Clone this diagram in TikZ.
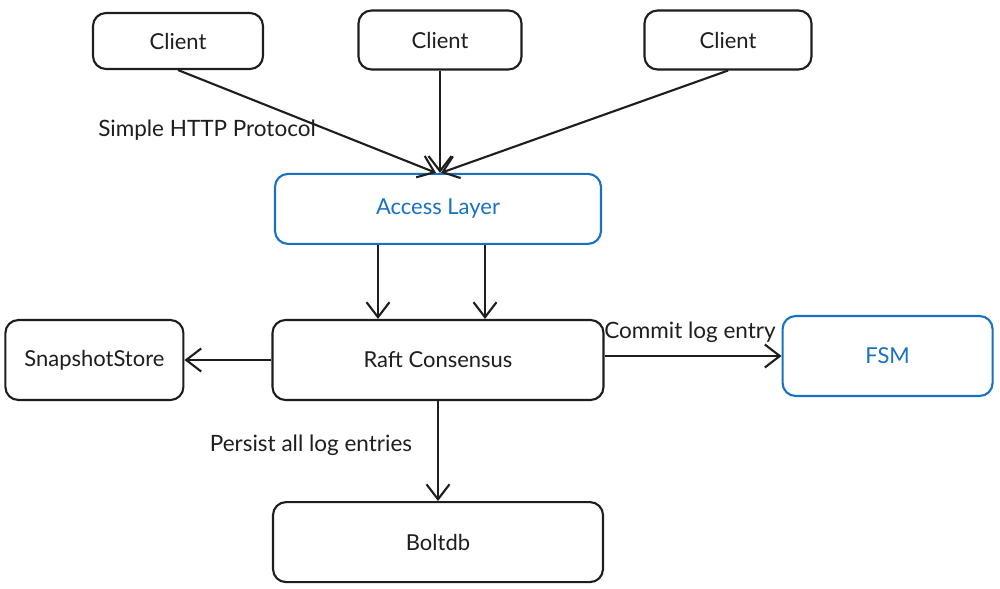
\documentclass[tikz,border=0pt]{standalone}
\usepackage{fontspec}
\setmainfont{Lato}
\usepackage{tikz}
\usetikzlibrary{positioning,arrows.meta,calc}
\definecolor{ink}{HTML}{1E1E1E}
\definecolor{accent}{HTML}{1971C2}
\tikzset{
    plainbox/.style={
        draw=ink, fill=white, line width=1.2pt, rounded corners=0.26cm,
        minimum height=1.6cm, font=\fontsize{12.5}{15}\selectfont, text=ink, align=center
    },
    clientbox/.style={
        plainbox, minimum height=1.18cm
    },
    bluebox/.style={
        plainbox, draw=accent, text=accent
    },
    edgelabel/.style={
        font=\fontsize{12.8}{15}\selectfont, text=ink, align=center
    },
    arrow/.style={-{Straight Barb[length=3mm,width=4.6mm]}, line width=1.2pt, color=ink},
}
\begin{document}
\begin{tikzpicture}[
        node distance=1.48cm and 1.74cm,
    ]
        \useasboundingbox (0,0) rectangle (20,-11.78);
        % core of the service
        \node[plainbox, minimum width=6.62cm] (raft) at (8.76,-7.2) {Raft Consensus};
        \node[bluebox, minimum width=6.52cm, minimum height=1.4cm, above=of raft] (access) {Access Layer};
        \node[plainbox, minimum width=3.56cm, left=of raft] (snap) {SnapshotStore};
        \node[bluebox, minimum width=4.2cm, right=3.54cm of raft, yshift=0.08cm] (fsm) {FSM};
        \node[plainbox, minimum width=6.6cm, below=2cm of raft] (bolt) {Boltdb};
        % clients
        \node[clientbox, minimum width=3.4cm, minimum height=1.12cm] (c1) at (3.56,-0.82) {Client};
        \node[clientbox, minimum width=3.26cm] (c2) at (8.8,-0.8) {Client};
        \node[clientbox, minimum width=3.34cm] (c3) at (14.56,-0.8) {Client};
        \draw[arrow] (c1.south) -- ([xshift=-0.04cm]access.north);
        \draw[arrow] (c2.south) -- (c2.south |- access.north);
        \draw[arrow] (c3.south) -- ([xshift=0.06cm]access.north);
        \node[edgelabel] (http) at (4.14,-2.6) {Simple HTTP Protocol};
        \draw[arrow] ([xshift=-1.2cm]access.south) -- ([xshift=-1.2cm]access.south |- raft.north);
        \draw[arrow] ([xshift=0.94cm]access.south) -- ([xshift=0.94cm]access.south |- raft.north);
        \draw[arrow] (raft.west) -- (snap.east);
        \draw[arrow] (raft.east |- fsm.west) -- (fsm.west);
        \node[edgelabel] (commit) at (13.8,-6.64) {Commit log entry};
        \draw[arrow] (raft.south) -- (bolt.north);
        \node[edgelabel] (persist) at (6.22,-8.9) {Persist all log entries};
    \end{tikzpicture}
\end{document}
